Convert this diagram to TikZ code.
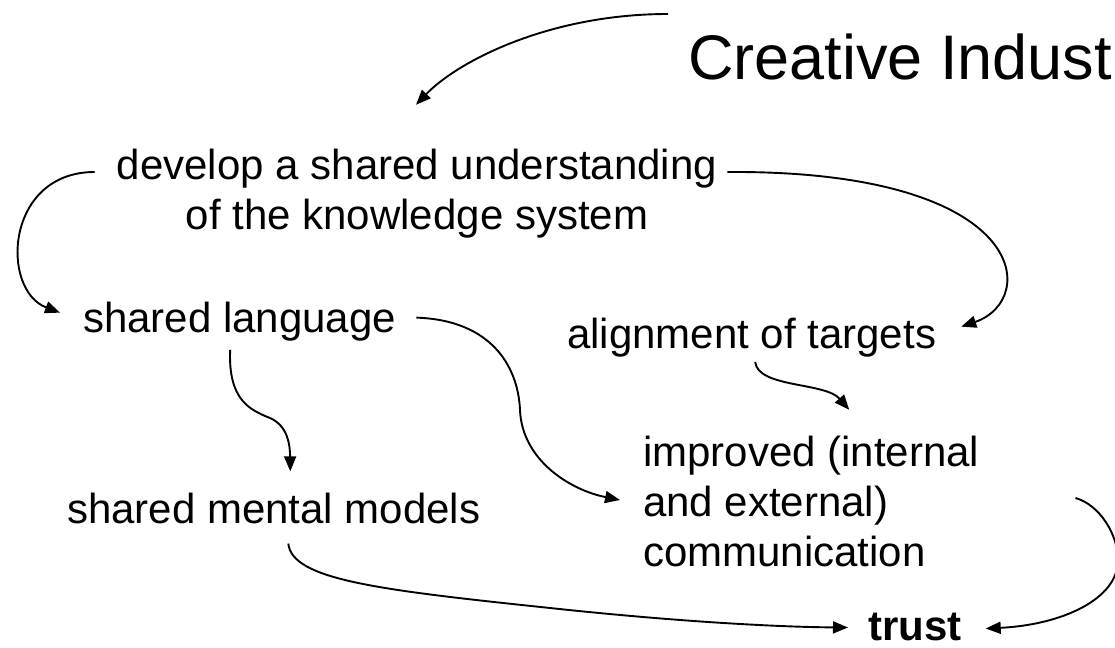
\documentclass[tikz,border=0pt]{standalone}
\usepackage{fontspec}
\setmainfont{Liberation Sans}
\usetikzlibrary{arrows.meta,calc}
\tikzset{
  concept/.style={inner sep=0pt, anchor=base west, font=\fontsize{42bp}{50bp}\selectfont},
  link/.style={->, line width=1.9bp},
}
\begin{document}
\begin{tikzpicture}[>={Triangle[length=15bp,width=12bp]}, x=1bp, y=-1bp, line join=bevel]
  \useasboundingbox (0,0) rectangle (1115,648);
  % Node: title
  \node[concept, font=\fontsize{63bp}{70bp}\selectfont] (title) at (688,80) {Creative Indust};
  \coordinate (head) at (668,14);
  % Node: dev
  \node[concept, anchor=base] (dev) at (417,180) {\begin{tabular}[t]{@{}c@{}}develop a shared understanding\\of the knowledge system\end{tabular}};
  % Node: lang
  \node[concept] (lang) at (83,333) {shared language};
  % Node: align
  \node[concept] (align) at (567,348) {alignment of targets};
  % Node: models
  \node[concept] (models) at (67,523) {shared mental models};
  % Node: comm
  \node[concept] (comm) at (643,466) {\begin{tabular}[t]{@{}l@{}}improved (internal\\and external)\\communication\end{tabular}};
  % Node: trust
  \node[concept] (trust) at (868,640) {\bfseries trust};
  % Edge: title -> dev
  \draw[link] (head) .. controls (548,14) and (457,62) .. ($(dev.north)+(-1,-40)$);
  % Edge: dev -> lang
  \draw[link] ($(dev.west)+(-22,-23)$) .. controls (5,172) and (0,290) .. ($(lang.west)+(-23,-9.5)$);
  % Edge: dev -> align
  \draw[link] ($(dev.east)+(10,-23)$) .. controls (1030,170) and (1040,300) .. ($(align.east)+(25,-10.5)$);
  % Edge: lang -> comm
  \draw[link] ($(lang.east)+(20,-4.5)$) .. controls (490,320) and (518,365) .. (520,410)
    .. controls (522,460) and (570,490) .. ($(comm.west)+(-23,-6)$);
  % Edge: lang -> models
  \draw[link] ($(lang.south)+(-9.5,8)$) .. controls (228,400) and (250,410) .. (270,418)
    .. controls (288,426) and (290,445) .. ($(models.north)+(16.5,-21)$);
  % Edge: align -> comm
  \draw[link] ($(align.south)+(3.5,5)$) .. controls (758,388) and (825,382) .. ($(comm.north)+(38,-21)$);
  % Edge: models -> trust
  \draw[link] ($(models.south)+(14.5,20)$) .. controls (292,580) and (380,590) .. (550,608)
    .. controls (680,622) and (780,627) .. ($(trust.west)+(-20,1)$);
  % Edge: comm -> trust
  \draw[link] ($(comm.east)+(96,-8)$) .. controls (1100,505) and (1118,535) .. (1118,560)
    .. controls (1118,600) and (1060,625) .. ($(trust.east)+(24,2)$);
\end{tikzpicture}
\end{document}
